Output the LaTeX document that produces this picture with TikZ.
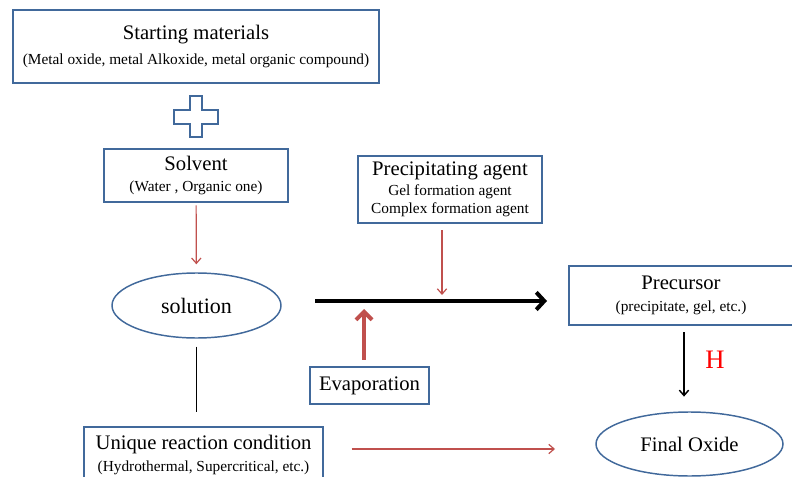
\documentclass[tikz,border=0pt]{standalone}
\usepackage{fontspec}
\setmainfont{Liberation Serif}
\usetikzlibrary{arrows.meta,shapes.geometric}
\definecolor{boxblue}{RGB}{65,105,155}
\definecolor{arrowred}{RGB}{192,80,77}
\newcommand{\headtxt}{\fontsize{15.5}{18}\selectfont}
\newcommand{\subtxt}{\fontsize{11.5}{13}\selectfont}

\begin{document}
\begin{tikzpicture}[x=0.75pt,y=0.75pt]
\tikzstyle{every node}+=[inner sep=0pt]
\tikzstyle{stagebox}=[draw=boxblue, line width=1.1pt, rectangle, align=center]
\tikzstyle{stageoval}=[draw=boxblue, line width=1.1pt, ellipse]
\tikzstyle{feed}=[arrowred, line width=0.9pt, -{Straight Barb[length=4pt,width=7pt]}]
\tikzstyle{flow}=[black, line width=3pt, -{Straight Barb[length=6pt,width=13pt]}]
\tikzstyle{lift}=[arrowred, line width=3pt, -{Straight Barb[length=6pt,width=12pt]}]
\useasboundingbox (0,0) rectangle (792,-477);
\node [stagebox, minimum width=274.5pt, minimum height=54.75pt] (start) at (196,-46.5) {\headtxt Starting materials\\[6.25pt]\subtxt (Metal oxide, metal Alkoxide, metal organic compound)};
\draw [boxblue, line width=1.5pt, fill=white] (190,-96) -- (202,-96) -- (202,-110) -- (218,-110) -- (218,-124) -- (202,-124) -- (202,-137) -- (190,-137) -- (190,-124) -- (174,-124) -- (174,-110) -- (190,-110) -- cycle;
\node [stagebox, minimum width=138pt, minimum height=39.75pt] (solvent) at (196,-175.5) {\headtxt Solvent\\[4pt]\subtxt (Water , Organic one)};
\node [stageoval, minimum width=126.75pt, minimum height=48.75pt] (solution) at (196.5,-305.5) {\fontsize{16.5}{19}\selectfont solution};
\node [stagebox, minimum width=138pt, minimum height=50.25pt] (agent) at (450,-189.5) {\headtxt Precipitating agent\\[3pt]\subtxt Gel formation agent\\[1.5pt]\subtxt Complex formation agent};
\node [stagebox, minimum width=168pt, minimum height=44.25pt] (precursor) at (681,-295.5) {\headtxt Precursor\\[4pt]\subtxt (precipitate, gel, etc.)};
\node [stagebox, minimum width=89.25pt, minimum height=27.75pt] (evap) at (369.5,-385.5) {\headtxt Evaporation};
\node [stagebox, minimum width=179.25pt, minimum height=42pt] (unique) at (203.5,-455) {\headtxt Unique reaction condition\\[4pt]\subtxt (Hydrothermal, Supercritical, etc.)};
\node [stageoval, minimum width=140.25pt, minimum height=48pt] (final) at (689.5,-444) {\headtxt Final Oxide};
\node [text=red, font=\fontsize{20}{24}\selectfont] (heat) at (715,-360) {H};
\coordinate (flowstart) at (315,-301);
\coordinate (flowend) at (547,-301);
\coordinate (agentin) at (442,-295);
\coordinate (evapin) at (364,-309);
\coordinate (reactin) at (555,-449);
\draw [feed, shorten <=2pt, shorten >=6pt] (solvent) -- (solution);
\draw [flow] (flowstart) -- (flowend);
\draw [feed, shorten <=5pt] (agentin |- agent.south) -- (agentin);
\draw [lift, shorten <=5pt] (evapin |- evap.north) -- (evapin);
\draw [black, line width=1.1pt, shorten <=6pt, shorten >=10.5pt] (solution.south) -- (solution.south |- unique.north);
\draw [feed, shorten <=21pt] (unique.east |- reactin) -- (reactin);
\draw [black, line width=1.1pt, -{Straight Barb[length=4pt,width=7pt]}, shorten <=5pt, shorten >=11pt] ([xshift=2.25pt]precursor.south) -- ([xshift=2.25pt]precursor.south |- final.north);
\end{tikzpicture}
\end{document}
